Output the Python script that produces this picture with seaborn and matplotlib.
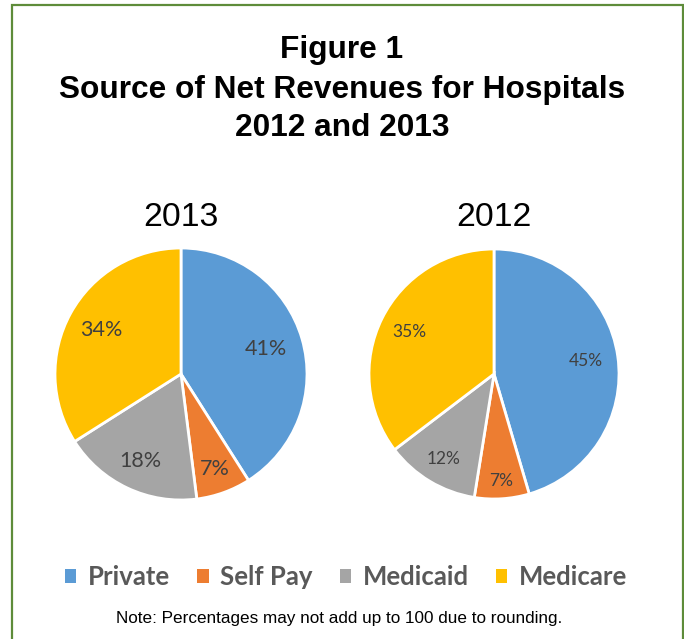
import numpy as np
import matplotlib
matplotlib.use("Agg")
import matplotlib.pyplot as plt
from matplotlib.patches import Rectangle
import seaborn as sns

categories = ["Private", "Self Pay", "Medicaid", "Medicare"]
values_2013 = [41, 7, 18, 34]
values_2012 = [45, 7, 12, 35]
colors = ["#5B9BD5", "#ED7D31", "#A5A5A5", "#FFC000"]

sns.set_theme(style="white")
plt.rcParams["font.family"] = ["Liberation Sans", "DejaVu Sans"]

W, H = 684, 639
fig = plt.figure(figsize=(W / 100, H / 100), dpi=100)
fig.patch.set_facecolor("white")

# green frame around the figure
fig.add_artist(Rectangle((12 / W, -0.05), (683 - 12) / W, 1.05 - 4.5 / H,
                         transform=fig.transFigure, fill=False,
                         edgecolor="#5E8C3A", linewidth=1.6))

for y, line in [(50, "Figure 1"), (90, "Source of Net Revenues for Hospitals"),
                (128, "2012 and 2013")]:
    fig.text(342 / W, 1 - y / H, line, ha="center", va="center",
             fontsize=22.8, fontweight="bold", color="black")


def draw_pie(cx, cy, r, values, title, label_size, label_dists):
    ax = fig.add_axes([(cx - r) / W, (H - cy - r) / H, 2 * r / W, 2 * r / H])
    wedges, _ = ax.pie(values, colors=colors, startangle=90, counterclock=False,
                       wedgeprops=dict(edgecolor="white", linewidth=2))
    for w, v, d in zip(wedges, values, label_dists):
        ang = np.deg2rad((w.theta1 + w.theta2) / 2)
        ax.text(d * np.cos(ang), d * np.sin(ang), f"{v}%", ha="center",
                va="center", fontsize=label_size, color="#404040",
                family=["Lato", "DejaVu Sans"])
    ax.set_xlim(-1, 1)
    ax.set_ylim(-1, 1)
    ax.set_aspect("equal")
    ax.axis("off")
    fig.text(cx / W, 1 - 218 / H, title, ha="center", va="center",
             fontsize=24.3, color="black")
    return wedges


wedges = draw_pie(181, 374, 126, values_2013, "2013", 15.5, [0.70, 0.80, 0.76, 0.72])
draw_pie(494, 374, 125, values_2012, "2012", 12.5, [0.74, 0.86, 0.79, 0.76])

leg = fig.legend(wedges, categories, loc="center", bbox_to_anchor=(346 / W, 1 - 577 / H),
                 ncol=4, frameon=False, handlelength=0.45, handleheight=0.45,
                 handletextpad=0.45, columnspacing=1.05,
                 prop=dict(family=["Lato", "DejaVu Sans"], size=18.5, weight="bold"))
for t in leg.get_texts():
    t.set_color("#595959")
for h in leg.legend_handles:
    h.set_edgecolor("none")

fig.text(339 / W, 1 - 619 / H, "Note: Percentages may not add up to 100 due to rounding.",
         ha="center", va="center", fontsize=12.3, color="black")

fig.savefig("out.png", dpi=100, facecolor="white")
